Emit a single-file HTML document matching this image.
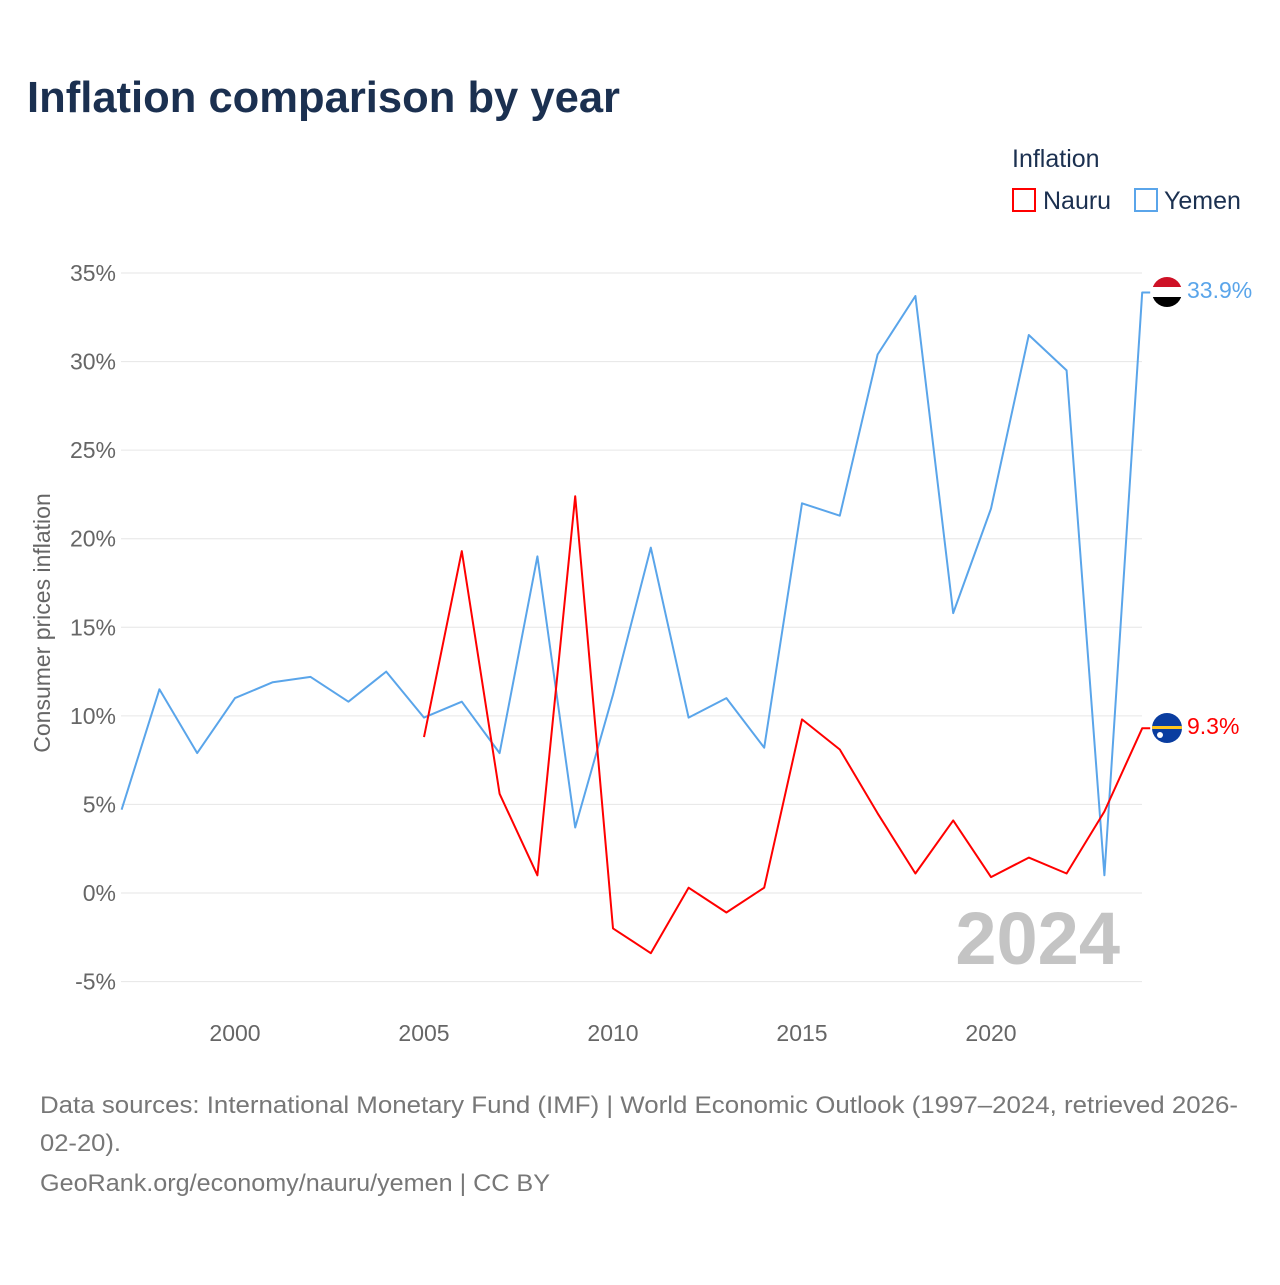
<!DOCTYPE html>
<html><head><meta charset="utf-8"><style>
body{margin:0;background:#fff;font-family:"Liberation Sans",sans-serif;}
svg text{font-family:"Liberation Sans",sans-serif;}
</style></head><body>
<svg width="1280" height="1280" viewBox="0 0 1280 1280">
<text x="27" y="112" font-size="44" font-weight="bold" fill="#1b3050" textLength="593" lengthAdjust="spacingAndGlyphs">Inflation comparison by year</text>
<text x="1012" y="167" font-size="25" fill="#1b3050">Inflation</text>
<g><rect x="1013" y="189" width="22" height="22" fill="none" stroke="#f00" stroke-width="2"/><text x="1043" y="209" font-size="25" fill="#1b3050">Nauru</text></g>
<g><rect x="1135" y="189" width="22" height="22" fill="none" stroke="#5aa5ea" stroke-width="2"/><text x="1164" y="209" font-size="25" fill="#1b3050">Yemen</text></g>
<g id="grid"></g>
<g id="xt"></g>
<text transform="translate(50,623) rotate(-90)" text-anchor="middle" font-size="23" fill="#666">Consumer prices inflation</text>
<text x="1120" y="964" text-anchor="end" font-size="74" font-weight="bold" fill="#c4c4c4">2024</text>
<g id="series"></g>
<g><clipPath id="c1"><circle cx="1167" cy="292" r="15"/></clipPath><g clip-path="url(#c1)"><rect x="1150" y="276" width="34" height="11" fill="#ce1126"/><rect x="1150" y="287" width="34" height="10" fill="#fff"/><rect x="1150" y="297" width="34" height="12" fill="#000"/></g></g>
<text x="1187" y="298" font-size="23" fill="#5aa5ea">33.9%</text>
<g><clipPath id="c2"><circle cx="1167" cy="728" r="15"/></clipPath><g clip-path="url(#c2)"><rect x="1150" y="712" width="34" height="34" fill="#0a3da0"/><rect x="1150" y="726" width="34" height="3" fill="#ffc61e"/><circle cx="1160" cy="735" r="3" fill="#fff"/></g></g>
<text x="1187" y="734" font-size="23" fill="#f00">9.3%</text>
<text x="40" y="1113" font-size="24" fill="#777" textLength="1198" lengthAdjust="spacingAndGlyphs">Data sources: International Monetary Fund (IMF) | World Economic Outlook (1997–2024, retrieved 2026-</text>
<text x="40" y="1151" font-size="24" fill="#777" textLength="81" lengthAdjust="spacingAndGlyphs">02-20).</text>
<text x="40" y="1191" font-size="24" fill="#777" textLength="510" lengthAdjust="spacingAndGlyphs">GeoRank.org/economy/nauru/yemen | CC BY</text>
</svg>
<script>
const years=[1997,1998,1999,2000,2001,2002,2003,2004,2005,2006,2007,2008,2009,2010,2011,2012,2013,2014,2015,2016,2017,2018,2019,2020,2021,2022,2023,2024];
const yemen=[4.7,11.5,7.9,11.0,11.9,12.2,10.8,12.5,9.9,10.8,7.9,19.0,3.7,11.2,19.5,9.9,11.0,8.2,22.0,21.3,30.4,33.7,15.8,21.7,31.5,29.5,1.0,33.9];
const nauru=[null,null,null,null,null,null,null,null,8.8,19.3,5.6,1.0,22.4,-2.0,-3.4,0.3,-1.1,0.3,9.8,8.1,4.5,1.1,4.1,0.9,2.0,1.1,4.6,9.3];
const yTicks=[-5,0,5,10,15,20,25,30,35];
const xTicks=[2000,2005,2010,2015,2020];
const NS='http://www.w3.org/2000/svg';
const X=y=>121.6+(y-1997)*37.8;
const Y=v=>893-v*17.714;
function mk(t,a,p){const e=document.createElementNS(NS,t);for(const k in a)e.setAttribute(k,a[k]);p.appendChild(e);return e;}
const g=document.getElementById('grid');
yTicks.forEach(v=>{
 const l=mk('line',{x1:121,x2:1142,y1:Y(v),y2:Y(v),stroke:'#e6e6e6','stroke-width':1},g);
 
 
 const t=mk('text',{x:116,y:Y(v)+8,'text-anchor':'end','font-size':23,fill:'#666'},g);
 t.textContent=v+'%';
 
 
});
const xt=document.getElementById('xt');
xTicks.forEach(v=>{
 const t=mk('text',{x:X(v),y:1041,'text-anchor':'middle','font-size':23,fill:'#666'},xt);
 t.textContent=v;
 
 
});
const s=document.getElementById('series');
function line(vals,col,name){
 let d='';let started=false;
 vals.forEach((v,i)=>{if(v==null)return;d+=(started?'L':'M')+X(years[i]).toFixed(1)+','+Y(v).toFixed(1);started=true;});
 const last=vals[vals.length-1];
 d+='L'+(X(years[years.length-1])+8)+','+Y(last).toFixed(1);
 const p=mk('path',{d:d,fill:'none',stroke:col,'stroke-width':2,'stroke-linejoin':'round'},s);
 
 
}
line(yemen,'#5aa5ea','yemen-line');
line(nauru,'#ff0000','nauru-line');
</script>
</body></html>
